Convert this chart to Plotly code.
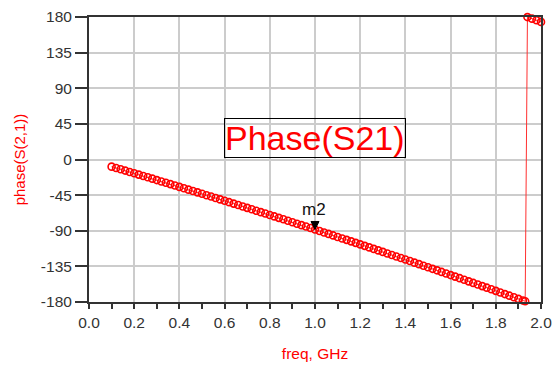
import plotly.graph_objects as go

freq = [0.10, 0.12, 0.14, 0.16, 0.18, 0.20, 0.22, 0.24, 0.26, 0.28,
        0.30, 0.32, 0.34, 0.36, 0.38, 0.40, 0.42, 0.44, 0.46, 0.48,
        0.50, 0.52, 0.54, 0.56, 0.58, 0.60, 0.62, 0.64, 0.66, 0.68,
        0.70, 0.72, 0.74, 0.76, 0.78, 0.80, 0.82, 0.84, 0.86, 0.88,
        0.90, 0.92, 0.94, 0.96, 0.98, 1.00, 1.02, 1.04, 1.06, 1.08,
        1.10, 1.12, 1.14, 1.16, 1.18, 1.20, 1.22, 1.24, 1.26, 1.28,
        1.30, 1.32, 1.34, 1.36, 1.38, 1.40, 1.42, 1.44, 1.46, 1.48,
        1.50, 1.52, 1.54, 1.56, 1.58, 1.60, 1.62, 1.64, 1.66, 1.68,
        1.70, 1.72, 1.74, 1.76, 1.78, 1.80, 1.82, 1.84, 1.86, 1.88,
        1.90, 1.92, 1.93, 1.94, 1.96, 1.98, 2.00]

phase = [-9.0, -10.7, -12.4, -14.0, -15.7, -17.4, -19.1, -20.8, -22.5, -24.2,
         -26.0, -27.7, -29.4, -31.1, -32.8, -34.6, -36.3, -38.1, -39.8, -41.5,
         -43.3, -45.1, -46.8, -48.6, -50.4, -52.1, -53.9, -55.7, -57.5, -59.3,
         -61.1, -62.9, -64.7, -66.5, -68.3, -70.1, -71.9, -73.7, -75.5, -77.4,
         -79.2, -81.1, -82.9, -84.7, -86.6, -88.4, -90.3, -92.2, -94.0, -95.9,
         -97.8, -99.7, -101.5, -103.4, -105.3, -107.2, -109.1, -111.0, -112.9, -114.8,
         -116.7, -118.7, -120.6, -122.5, -124.4, -126.4, -128.3, -130.3, -132.2, -134.2,
         -136.1, -138.1, -140.0, -142.0, -144.0, -146.0, -147.9, -149.9, -151.9, -153.9,
         -155.9, -157.9, -159.9, -161.9, -163.9, -165.9, -168.0, -170.0, -172.0, -174.0,
         -176.1, -178.1, -179.1, 179.9, 177.9, 175.8, 173.8]

x_ticks = [0.0, 0.2, 0.4, 0.6, 0.8, 1.0, 1.2, 1.4, 1.6, 1.8, 2.0]
x_labels = ["0.0", "0.2", "0.4", "0.6", "0.8", "1.0", "1.2", "1.4", "1.6", "1.8", "2.0"]
y_ticks = [-180, -135, -90, -45, 0, 45, 90, 135, 180]
y_labels = ["-180", "-135", "-90", "-45", "0", "45", "90", "135", "180"]

marker_name = "m2"
marker_freq = 1.00
marker_phase = phase[freq.index(marker_freq)]

title_text = "Phase(S21)"
title_pos = (1.0, 27)

FONT = "Liberation Sans, Arial, sans-serif"

fig = go.Figure()
fig.add_trace(go.Scatter(
    x=freq, y=phase, mode="lines+markers",
    line=dict(color="#ff3030", width=1),
    marker=dict(symbol="circle-open", size=7, color="red", line=dict(width=1.6, color="red")),
    cliponaxis=False, showlegend=False, hoverinfo="skip",
))

# marker triangle (pixel-sized, anchored at the data point)
fig.add_shape(type="path", xref="x", yref="y", xsizemode="pixel", ysizemode="pixel",
              xanchor=marker_freq, yanchor=marker_phase,
              path="M -4,8 L 4,8 L 0,0 Z", fillcolor="black", line=dict(color="black", width=1))
fig.add_annotation(x=marker_freq, y=marker_phase, text=marker_name, showarrow=False,
                   yanchor="bottom", yshift=8, xshift=-1, font=dict(family=FONT, size=17, color="#111"))

fig.add_annotation(x=title_pos[0], y=title_pos[1], text=title_text, showarrow=False,
                   font=dict(family=FONT, size=34, color="red"),
                   bordercolor="black", borderwidth=1, borderpad=0)

fig.update_layout(
    width=552, height=367,
    margin=dict(l=89, r=11, t=17, b=65),
    paper_bgcolor="white", plot_bgcolor="white",
    font=dict(family=FONT, size=15.5, color="#333"),
)
fig.update_xaxes(
    range=[0, 2], tickvals=x_ticks, ticktext=x_labels, automargin=False,
    ticklabeloverflow="allow",
    ticks="outside", ticklen=5, tickwidth=1.5, tickcolor="#333",
    minor=dict(dtick=0.1, tick0=0, ticks="outside", ticklen=5, tickwidth=1.5, tickcolor="#333", showgrid=False),
    showgrid=True, gridcolor="#cccccc", gridwidth=1.5,
    showline=True, linecolor="#333", linewidth=2, mirror=True,
    zeroline=False, tickfont=dict(size=15.5, color="#333"),
    title=dict(text="freq, GHz", font=dict(size=15.5, color="red"), standoff=19),
)
fig.update_yaxes(
    range=[-180, 180], tickvals=y_ticks, ticktext=y_labels, automargin=False,
    ticklabeloverflow="allow",
    ticks="outside", ticklen=12, tickwidth=1.5, tickcolor="#333",
    showgrid=True, gridcolor="#cccccc", gridwidth=1.5,
    showline=True, linecolor="#333", linewidth=2, mirror=True,
    zeroline=False, tickfont=dict(size=15.5, color="#333"),
    title=dict(text="phase(S(2,1))", font=dict(size=15, color="red"), standoff=12),
)

fig.write_html("out.html")
